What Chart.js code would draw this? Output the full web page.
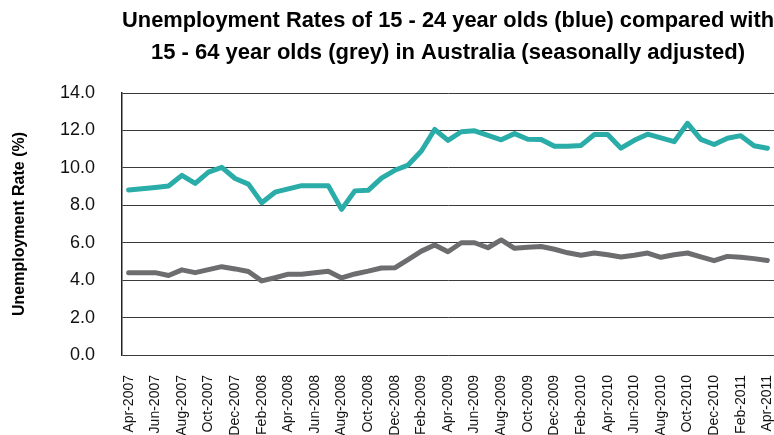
<!DOCTYPE html>
<html>
<head>
<meta charset="utf-8">
<script src="https://cdn.jsdelivr.net/npm/chart.js@4/dist/chart.umd.min.js"></script>
<style>
  html, body { margin: 0; padding: 0; background: #fff; }
  #wrap { width: 774px; height: 435px; position: relative; }
</style>
</head>
<body>
<div id="wrap"><canvas id="c" width="774" height="435"></canvas></div>
<script>
const months = [
  "Apr-2007","May-2007","Jun-2007","Jul-2007","Aug-2007","Sep-2007","Oct-2007","Nov-2007","Dec-2007",
  "Jan-2008","Feb-2008","Mar-2008","Apr-2008","May-2008","Jun-2008","Jul-2008","Aug-2008","Sep-2008","Oct-2008","Nov-2008","Dec-2008",
  "Jan-2009","Feb-2009","Mar-2009","Apr-2009","May-2009","Jun-2009","Jul-2009","Aug-2009","Sep-2009","Oct-2009","Nov-2009","Dec-2009",
  "Jan-2010","Feb-2010","Mar-2010","Apr-2010","May-2010","Jun-2010","Jul-2010","Aug-2010","Sep-2010","Oct-2010","Nov-2010","Dec-2010",
  "Jan-2011","Feb-2011","Mar-2011","Apr-2011"
];
const youth15to24 = [
  8.82, 8.88, 8.95, 9.03, 9.6, 9.17, 9.77, 10.03, 9.43,
  9.13, 8.14, 8.7, 8.88, 9.05, 9.05, 9.05, 7.78, 8.77, 8.8, 9.45, 9.87,
  10.15, 10.9, 12.05, 11.47, 11.93, 11.98, 11.73, 11.5, 11.83, 11.53, 11.52, 11.15,
  11.15, 11.2, 11.78, 11.78, 11.05, 11.47, 11.8, 11.6, 11.4, 12.38, 11.52, 11.25,
  11.58, 11.72, 11.18, 11.05
];
const all15to64 = [
  4.4, 4.4, 4.4, 4.25, 4.55, 4.4, 4.56, 4.72, 4.6,
  4.46, 3.96, 4.13, 4.32, 4.32, 4.4, 4.47, 4.12, 4.33, 4.48, 4.65, 4.66,
  5.1, 5.55, 5.88, 5.52, 6.0, 6.0, 5.73, 6.15, 5.7, 5.76, 5.8, 5.65,
  5.46, 5.33, 5.45, 5.36, 5.24, 5.33, 5.45, 5.22, 5.36, 5.45, 5.24, 5.04,
  5.27, 5.22, 5.15, 5.05
];
const yTicks = [0, 2, 4, 6, 8, 10, 12, 14];
const titleLines = [
  "Unemployment Rates of 15 - 24 year olds (blue) compared with",
  "15 - 64 year olds (grey) in Australia (seasonally adjusted)"
];
const yAxisTitle = "Unemployment Rate (%)";

const FONT = "'Liberation Sans', Arial, Helvetica, sans-serif";

new Chart(document.getElementById('c'), {
  type: 'line',
  data: {
    labels: months,
    datasets: [
      {
        label: '15 - 24 year olds',
        data: youth15to24,
        borderColor: '#2aaca8',
        borderWidth: 5,
        pointRadius: 0,
        tension: 0,
        borderCapStyle: 'round',
        borderJoinStyle: 'round',
        fill: false
      },
      {
        label: '15 - 64 year olds',
        data: all15to64,
        borderColor: '#6d6d70',
        borderWidth: 5,
        pointRadius: 0,
        tension: 0,
        borderCapStyle: 'round',
        borderJoinStyle: 'round',
        fill: false
      }
    ]
  },
  options: {
    responsive: false,
    animation: false,
    devicePixelRatio: 1,
    layout: { padding: { left: 0, right: 0, top: 0, bottom: 0 } },
    plugins: {
      legend: { display: false },
      tooltip: { enabled: false },
      title: {
        display: true,
        text: titleLines,
        fullSize: false,
        color: '#000',
        font: { family: FONT, size: 22, weight: 'bold', lineHeight: '32px' },
        padding: { top: 5, bottom: 24 }
      }
    },
    scales: {
      x: {
        type: 'category',
        offset: true,
        grid: { display: false, drawTicks: false },
        border: { display: false },
        afterFit: s => { s.height = 80; s.paddingLeft = 0; s.paddingRight = 0; },
        ticks: {
          autoSkip: false,
          maxRotation: 90,
          minRotation: 90,
          padding: 20,
          color: '#111',
          font: { family: FONT, size: 14 },
          callback: function(v, i) { return i % 2 === 0 ? months[i] : ''; }
        }
      },
      y: {
        min: 0,
        max: 14,
        afterFit: s => { s.width = 122; s.paddingTop = 0; s.paddingBottom = 0; },
        afterBuildTicks: s => { s.ticks = yTicks.map(v => ({ value: v })); },
        grid: { color: '#3a3a3a', lineWidth: 1, drawTicks: false },
        border: { display: true, color: '#222', width: 1.5 },
        ticks: {
          padding: 27,
          color: '#111',
          font: { family: FONT, size: 18 },
          callback: v => Number(v).toFixed(1)
        },
        title: {
          display: true,
          text: yAxisTitle,
          color: '#000',
          font: { family: FONT, size: 16, weight: 'bold', lineHeight: 1.2 },
          padding: { top: 10, bottom: 4 }
        }
      }
    }
  }
});
</script>
</body>
</html>
